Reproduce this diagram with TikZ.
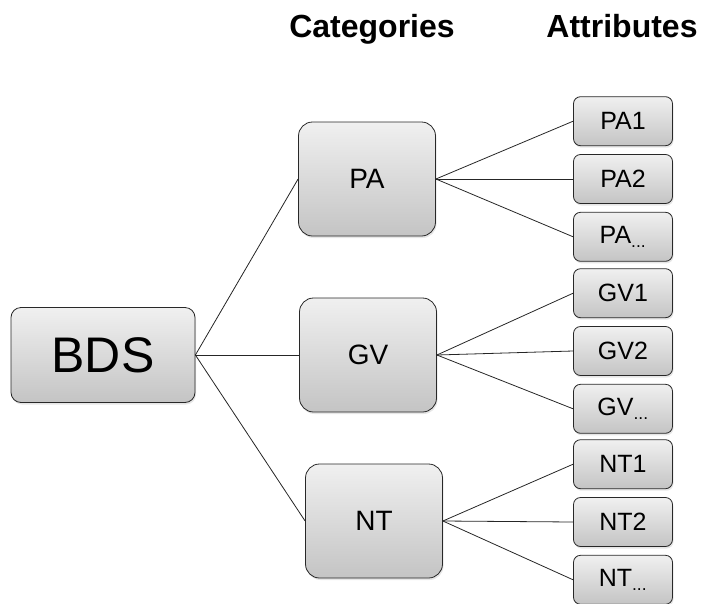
\documentclass[tikz,border=0pt]{standalone}
\usepackage{fontspec}
\setmainfont{Liberation Sans}
\usepackage{tikz}
\usetikzlibrary{positioning, shadows}
\definecolor{boxtop}{RGB}{240, 240, 240}
\definecolor{boxbottom}{RGB}{196, 196, 196}
\definecolor{boxframe}{RGB}{40, 40, 40}

\begin{document}
\begin{tikzpicture}[
    x=1pt, y=-1pt,
    node distance=8pt and 138pt,
    box/.style={draw=boxframe, line width=0.8pt, top color=boxtop, bottom color=boxbottom,
      drop shadow={opacity=0.2, shadow xshift=1pt, shadow yshift=-2pt}},
    root/.style={box, rounded corners=10pt, minimum width=184pt, minimum height=95pt,
      font=\fontsize{50}{60}\selectfont},
    category/.style={box, rounded corners=14pt, minimum width=137pt, minimum height=114pt,
      font=\fontsize{28}{34}\selectfont},
    attribute/.style={box, rounded corners=7pt, minimum width=99pt, minimum height=49pt,
      font=\fontsize{25}{30}\selectfont},
    header/.style={anchor=base, font=\bfseries\fontsize{32}{38}\selectfont},
    link/.style={line width=0.8pt, black!85}
    ]
    \useasboundingbox (0,0) rectangle (702,603);

    % Headers
    \node[header] (categories) at (372,37) {Categories};
    \node[header] (attributes) at (622,37) {Attributes};

    % Root
    \node[root] (bds) at (103,355) {BDS};

    % Categories
    \node[category] (pa) at (367,179) {PA};
    \node[category] (gv) at (368,355) {GV};
    \node[category] (nt) at (374,521) {NT};

    \foreach \cat in {pa, gv, nt} {
        \draw[link] (bds.east) -- (\cat.west);
      }

    % Attributes
    \foreach \cat/\lbl/\y in {pa/PA/179, gv/GV/351, nt/NT/522} {
        \node[attribute] (\cat2) at (623,\y) {\lbl2};
        \node[attribute, above=of \cat2] (\cat1) {\lbl1};
        \node[attribute, below=of \cat2] (\cat3) {\lbl\textsubscript{...}};
        \foreach \i in {1,2,3} {
            \draw[link] (\cat.east) -- (\cat\i.west);
          }
      }
  \end{tikzpicture}
\end{document}
